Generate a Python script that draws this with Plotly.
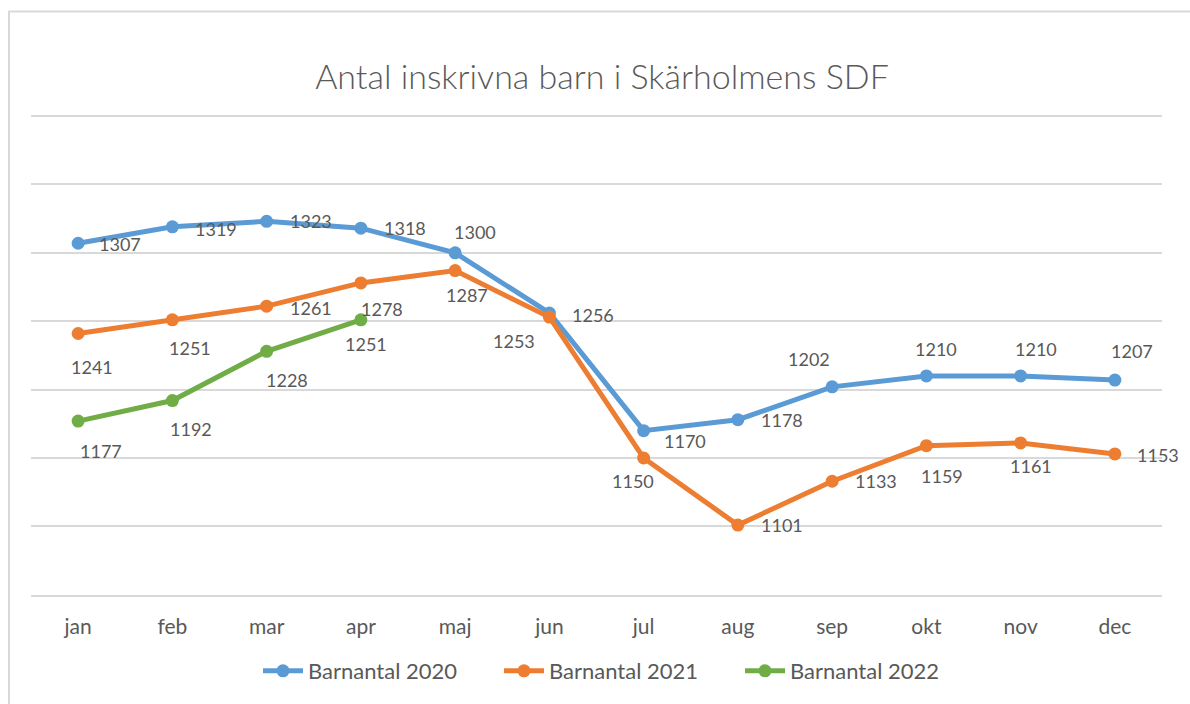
import plotly.graph_objects as go

# Monthly enrolment figures
months = ["jan", "feb", "mar", "apr", "maj", "jun", "jul", "aug", "sep", "okt", "nov", "dec"]
barn_2020 = [1307, 1319, 1323, 1318, 1300, 1256, 1170, 1178, 1202, 1210, 1210, 1207]
barn_2021 = [1241, 1251, 1261, 1278, 1287, 1253, 1150, 1101, 1133, 1159, 1161, 1153]
barn_2022 = [1177, 1192, 1228, 1251]

series_names = ["Barnantal 2020", "Barnantal 2021", "Barnantal 2022"]
series_colors = ["#5B9BD5", "#ED7D31", "#70AD47"]

# Data-label placement (pixel offsets from each point: right, up)
label_shift_2020 = [(42, -1), (44, -2), (44, 0), (44, 0), (20, 21), (44, -2),
                    (41, -10), (44, 0), (-23, 28), (10, 27), (15, 27), (17, 29)]
label_shift_2021 = [(14, -33), (18, -28), (44, -2), (21, -26), (12, -24), (-35, -24),
                    (-11, -23), (44, 0), (44, 0), (16, -30), (10, -23), (43, -1)]
label_shift_2022 = [(23, -30), (19, -28), (20, -29), (5, -24)]

W, H = 1190, 704
ML, MR, MT, MB = 31, 28, 113, 107
TEXT = "#595959"
GRID = "#D9D9D9"
FONT = "Lato"

fig = go.Figure()
annotations = []
for name, color, values, shifts in zip(
    series_names,
    series_colors,
    [barn_2020, barn_2021, barn_2022],
    [label_shift_2020, label_shift_2021, label_shift_2022],
):
    xs = months[: len(values)]
    fig.add_trace(go.Scatter(
        x=xs, y=values, name=name, mode="lines+markers",
        line=dict(color=color, width=5),
        marker=dict(color=color, size=13),
        hoverinfo="x+y+name",
    ))
    for m, v, (dx, dy) in zip(xs, values, shifts):
        annotations.append(dict(
            x=m, y=v, text=str(v), showarrow=False,
            xshift=dx, yshift=dy,
            font=dict(family=FONT, size=18, color=TEXT),
        ))

# Chart-area frame (left and top edges visible in the window)
pw, ph = W - ML - MR, H - MT - MB
frame = dict(
    type="rect", xref="paper", yref="paper", layer="below",
    x0=(9 - ML) / pw, x1=(W + 10 - ML) / pw,
    y0=-(H + 10 - (H - MB)) / ph, y1=1 + (MT - 11) / ph,
    line=dict(color=GRID, width=2), fillcolor="rgba(0,0,0,0)",
)

fig.update_layout(
    width=W, height=H,
    margin=dict(l=ML, r=MR, t=MT, b=MB, pad=0),
    paper_bgcolor="white", plot_bgcolor="white",
    font=dict(family=FONT, color=TEXT),
    title=dict(
        text="Antal inskrivna barn i Skärholmens SDF",
        x=602 / W, xanchor="center", xref="container",
        y=1 - 77 / H, yanchor="middle", yref="container",
        font=dict(family=FONT, size=34, color=TEXT, weight=300),
    ),
    xaxis=dict(
        type="category", categoryorder="array", categoryarray=months,
        range=[-0.5, 11.5], showgrid=False, zeroline=False,
        showline=True, linecolor=GRID, linewidth=2,
        ticks="", tickfont=dict(family=FONT, size=21, color=TEXT),
        ticklabelstandoff=12,
    ),
    yaxis=dict(
        range=[1050, 1402.2], dtick=50, tick0=1050,
        showgrid=True, gridcolor=GRID, gridwidth=2,
        zeroline=False, showticklabels=False, ticks="",
    ),
    legend=dict(
        orientation="h", xref="container", yref="container",
        x=258 / W, xanchor="left", y=1 - 671 / H, yanchor="middle",
        font=dict(family=FONT, size=22, color=TEXT),
        itemwidth=40, traceorder="normal",
        entrywidth=186, entrywidthmode="pixels",
    ),
    showlegend=True,
    annotations=annotations,
    shapes=[frame],
)

fig.write_html("out.html")
